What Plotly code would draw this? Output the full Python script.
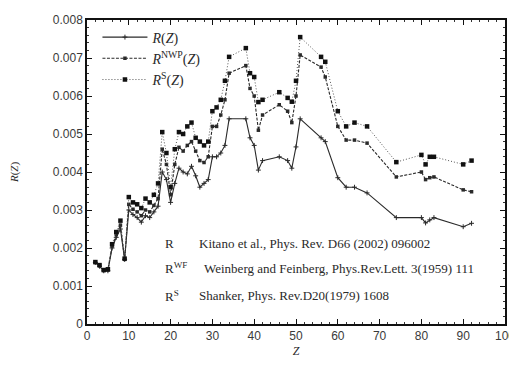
import plotly.graph_objects as go

# atomic number Z
z = [2, 3, 4, 5, 6, 7, 8, 9, 10, 11, 12, 13, 14, 15, 16, 17, 18, 19, 20,
     21, 22, 23, 24, 25, 26, 27, 28, 29, 30, 31, 32, 33, 34, 38, 39, 40,
     41, 42, 46, 48, 49, 50, 51, 56, 57, 60, 62, 64, 67, 74, 80, 81, 82,
     83, 90, 92]

# R(Z), Kitano et al.
r_kitano = [0.00162, 0.00152, 0.00140, 0.00140, 0.00200, 0.00228, 0.00250,
            0.00170, 0.00300, 0.00288, 0.00280, 0.00268, 0.00285, 0.00280,
            0.00295, 0.00310, 0.00400, 0.00380, 0.00320, 0.00370, 0.00410,
            0.00400, 0.00395, 0.00415, 0.00390, 0.00360, 0.00370, 0.00380,
            0.00440, 0.00440, 0.00450, 0.00470, 0.00540, 0.00540, 0.00490,
            0.00470, 0.00405, 0.00430, 0.00440, 0.00430, 0.00410, 0.00466,
            0.00540, 0.00490, 0.00480, 0.00385, 0.00360, 0.00360, 0.00345,
            0.00280, 0.00280, 0.00266, 0.00274, 0.00280, 0.00256, 0.00265]

# R^NWP(Z), Weinberg and Feinberg
r_nwp = [0.00162, 0.00153, 0.00141, 0.00142, 0.00205, 0.00235, 0.00260,
         0.00170, 0.00315, 0.00302, 0.00295, 0.00285, 0.00300, 0.00295,
         0.00312, 0.00330, 0.00460, 0.00420, 0.00340, 0.00420, 0.00465,
         0.00455, 0.00470, 0.00480, 0.00455, 0.00430, 0.00425, 0.00440,
         0.00520, 0.00520, 0.00550, 0.00590, 0.00660, 0.00680, 0.00620,
         0.00600, 0.00510, 0.00550, 0.00577, 0.00560, 0.00530, 0.00600,
         0.00708, 0.00676, 0.00650, 0.00520, 0.00484, 0.00484, 0.00476,
         0.00387, 0.00400, 0.00380, 0.00385, 0.00387, 0.00353, 0.00348]

# R^S(Z), Shanker
r_shanker = [0.00163, 0.00155, 0.00142, 0.00144, 0.00210, 0.00242, 0.00272,
             0.00172, 0.00334, 0.00320, 0.00315, 0.00305, 0.00330, 0.00320,
             0.00340, 0.00370, 0.00505, 0.00450, 0.00360, 0.00460, 0.00505,
             0.00500, 0.00520, 0.00530, 0.00490, 0.00480, 0.00470, 0.00480,
             0.00560, 0.00570, 0.00590, 0.00640, 0.00703, 0.00726, 0.00660,
             0.00650, 0.00584, 0.00590, 0.00610, 0.00595, 0.00585, 0.00640,
             0.00755, 0.00703, 0.00690, 0.00560, 0.00520, 0.00530, 0.00520,
             0.00426, 0.00445, 0.00420, 0.00440, 0.00440, 0.00420, 0.00430]

xticks = [0, 10, 20, 30, 40, 50, 60, 70, 80, 90, 100]
yticks = [0, 0.001, 0.002, 0.003, 0.004, 0.005, 0.006, 0.007, 0.008]
ytick_labels = ["0", "0.001", "0.002", "0.003", "0.004", "0.005", "0.006", "0.007", "0.008"]

refs = [
    ("R", "Kitano et al., Phys. Rev. D66 (2002) 096002", 0.00213, 26.3),
    ("R<sup>WF</sup>", "Weinberg and Feinberg, Phys.Rev.Lett. 3(1959) 111", 0.00147, 27.4),
    ("R<sup>S</sup>", "Shanker, Phys. Rev.D20(1979) 1608", 0.00074, 26.3),
]

ink = "#2a2a2a"
serif = "Liberation Serif"

fig = go.Figure()
fig.add_trace(go.Scatter(
    x=z, y=r_kitano, mode="lines+markers",
    name="<i>R</i>(<i>Z</i>)",
    line=dict(color=ink, width=1.1, dash="solid"),
    marker=dict(symbol="cross-thin", size=3.5, line=dict(color=ink, width=1)),
))
fig.add_trace(go.Scatter(
    x=z, y=r_nwp, mode="lines+markers",
    name="<i>R</i><sup>NWP</sup>(<i>Z</i>)",
    line=dict(color=ink, width=1.1, dash="3px,1.5px"),
    marker=dict(symbol="square", size=3.5, color=ink),
))
fig.add_trace(go.Scatter(
    x=z, y=r_shanker, mode="lines+markers",
    name="<i>R</i><sup>S</sup>(<i>Z</i>)",
    line=dict(color="#555555", width=1, dash="1px,2px"),
    marker=dict(symbol="square", size=4.5, color="#111111"),
))

for sym, txt, yy, xt in refs:
    fig.add_annotation(x=18.2, y=yy, text=sym, showarrow=False, xanchor="left",
                       font=dict(family=serif, size=13, color=ink))
    fig.add_annotation(x=xt, y=yy, text=txt, showarrow=False, xanchor="left",
                       font=dict(family=serif, size=13, color=ink))

axis_common = dict(
    showline=True, linecolor="#111111", linewidth=1.5, mirror="allticks",
    ticks="inside", ticklen=5, tickcolor="#111111", tickwidth=1,
    showgrid=False, zeroline=False, automargin=False,
    ticklabeloverflow="allow",
    tickfont=dict(family="Liberation Sans", size=12, color="#3a3a3a"),
    minor=dict(ticks="inside", ticklen=2.5, tickcolor="#333333", showgrid=False),
)

fig.update_xaxes(range=[0, 100], tickvals=xticks, minor_dtick=2,
                 title=dict(text="<i>Z</i>", standoff=4,
                            font=dict(family=serif, size=12, color=ink)),
                 **axis_common)
fig.update_yaxes(range=[0, 0.008], tickvals=yticks, ticktext=ytick_labels,
                 minor_dtick=0.0002,
                 title=dict(text="<i>R</i>(<i>Z</i>)", standoff=33,
                            font=dict(family=serif, size=11, color=ink)),
                 **axis_common)

# the page body adds an 8px offset, so the figure is 8px smaller than the window
fig.update_layout(
    width=509, height=359,
    margin=dict(l=79, r=12, t=12, b=43),
    paper_bgcolor="white", plot_bgcolor="white",
    showlegend=True,
    legend=dict(x=0.025, y=0.995, xanchor="left", yanchor="top",
                bgcolor="rgba(0,0,0,0)", borderwidth=0,
                font=dict(family=serif, size=14, color=ink),
                itemwidth=45, tracegroupgap=0),
)

fig.write_html("out.html")
